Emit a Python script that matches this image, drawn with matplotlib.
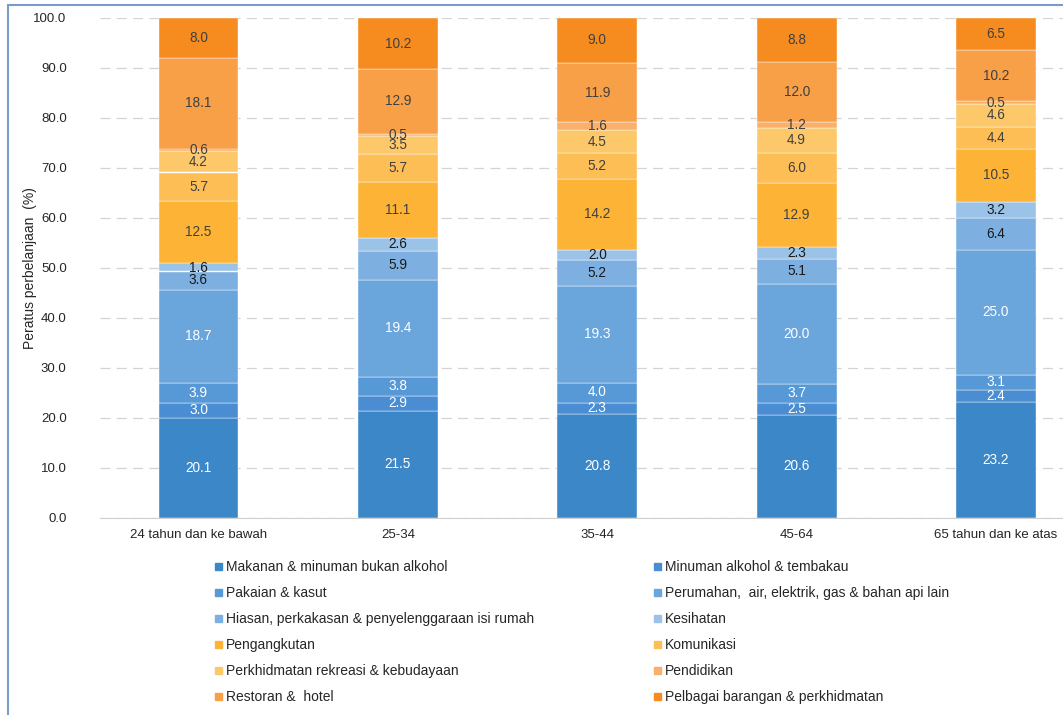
"""Stacked share of household spending by age group of head of household."""

import matplotlib

matplotlib.use("Agg")
import matplotlib.pyplot as plt
from matplotlib.patches import Rectangle
import numpy as np

plt.rcParams["font.family"] = ["Liberation Sans", "DejaVu Sans"]

groups = ["24 tahun dan ke bawah", "25-34", "35-44", "45-64", "65 tahun dan ke atas"]

series_names = [
    "Makanan & minuman bukan alkohol",
    "Minuman alkohol & tembakau",
    "Pakaian & kasut",
    "Perumahan,  air, elektrik, gas & bahan api lain",
    "Hiasan, perkakasan & penyelenggaraan isi rumah",
    "Kesihatan",
    "Pengangkutan",
    "Komunikasi",
    "Perkhidmatan rekreasi & kebudayaan",
    "Pendidikan",
    "Restoran &  hotel",
    "Pelbagai barangan & perkhidmatan",
]

makanan = [20.1, 21.5, 20.8, 20.6, 23.2]
minuman_alkohol = [3.0, 2.9, 2.3, 2.5, 2.4]
pakaian = [3.9, 3.8, 4.0, 3.7, 3.1]
perumahan = [18.7, 19.4, 19.3, 20.0, 25.0]
hiasan = [3.6, 5.9, 5.2, 5.1, 6.4]
kesihatan = [1.6, 2.6, 2.0, 2.3, 3.2]
pengangkutan = [12.5, 11.1, 14.2, 12.9, 10.5]
komunikasi = [5.7, 5.7, 5.2, 6.0, 4.4]
rekreasi = [4.2, 3.5, 4.5, 4.9, 4.6]
pendidikan = [0.6, 0.5, 1.6, 1.2, 0.5]
restoran = [18.1, 12.9, 11.9, 12.0, 10.2]
pelbagai = [8.0, 10.2, 9.0, 8.8, 6.5]

series_values = [makanan, minuman_alkohol, pakaian, perumahan, hiasan, kesihatan,
                 pengangkutan, komunikasi, rekreasi, pendidikan, restoran, pelbagai]

colors = ["#3B87C7", "#4A8DD2", "#5699D6", "#6AA5DC", "#7DB0E0", "#9BC2E7",
          "#FDB436", "#FDBE55", "#FDC86A", "#F9B06A", "#F7A048", "#F68C1F"]
text_colors = ["white"] * 4 + ["#1A1A1A"] * 2 + ["#404040"] * 6

fig = plt.figure(figsize=(10.63, 7.15), dpi=100)
W, H = 1063, 715
ax = fig.add_axes([100 / W, 1 - 518 / H, 1 - 100 / W, 500 / H])

x = np.arange(len(groups))
bottom = np.zeros(len(groups))
for vals, col, tcol in zip(series_values, colors, text_colors):
    vals = np.array(vals)
    ax.bar(x, vals, 0.40, bottom=bottom, color=col, edgecolor="white",
           linewidth=0.3, zorder=3)
    for xi, b, v in zip(x, bottom, vals):
        ax.text(xi, b + v / 2, f"{v:.1f}", ha="center", va="center",
                fontsize=9.8, color=tcol, zorder=4)
    bottom += vals

ax.set_xlim(-0.494, 4.336)
ax.set_ylim(0, 100)
ax.set_yticks(np.arange(0, 101, 10))
ax.set_yticklabels([f"{v:.1f}" for v in np.arange(0, 101, 10)])
ax.set_xticks(x)
ax.set_xticklabels(groups)
ax.tick_params(axis="both", length=0, labelsize=9.5, colors="#262626")
ax.tick_params(axis="y", pad=24)
ax.tick_params(axis="x", pad=8)
ax.yaxis.grid(True, color="#D4D4D4", linestyle=(0, (8, 5)), linewidth=0.9, zorder=0)
for side in ("top", "right", "left"):
    ax.spines[side].set_visible(False)
ax.spines["bottom"].set_color("#D0D0D0")
ax.spines["bottom"].set_zorder(5)
ax.set_ylabel("Peratus perbelanjaan  (%)", fontsize=10, color="#262626")
ax.yaxis.set_label_coords(-63 / (W - 100), 0.5)

# legend, row by row in two columns
col_x = [218, 657]
row_y = [567, 593, 619, 645, 671, 697]
for i, (name, col) in enumerate(zip(series_names, colors)):
    cx = col_x[i % 2]
    cy = row_y[i // 2]
    fig.add_artist(Rectangle(((cx - 3.5) / W, 1 - (cy + 2.5) / H), 7 / W, 7 / H,
                             transform=fig.transFigure, color=col))
    fig.text((cx + 8) / W, 1 - cy / H, name, fontsize=10, color="#262626",
             ha="left", va="center")

# outer frame (cut at right and bottom)
fig.add_artist(Rectangle((8 / W, -0.01), 1.0, 1 - 5 / H + 0.01, transform=fig.transFigure,
                         fill=False, edgecolor="#7A9CC6", linewidth=1.5))

fig.savefig("out.png", dpi=100)
